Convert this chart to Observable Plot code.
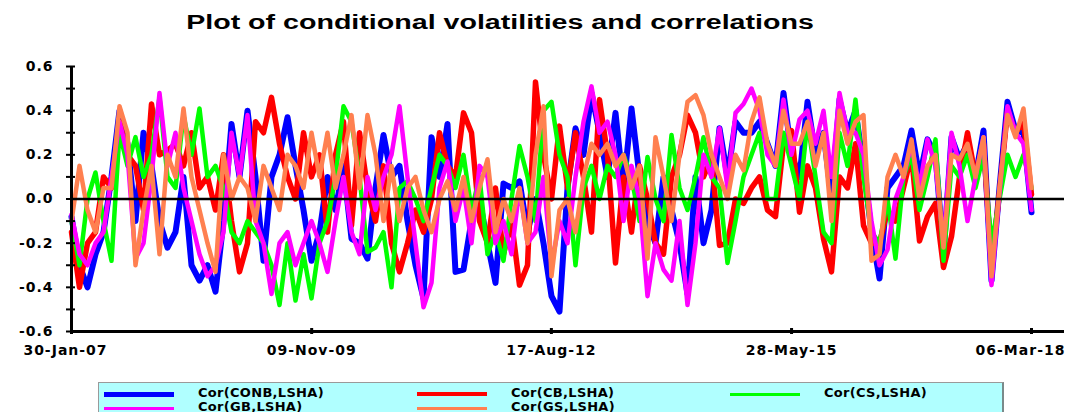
<!DOCTYPE html>
<html>
<head>
<meta charset="utf-8">
<script src="https://cdn.jsdelivr.net/npm/d3@7"></script>
<script src="https://cdn.jsdelivr.net/npm/@observablehq/plot@0.6"></script>
<style>
  html, body { margin: 0; padding: 0; background: #fff; }
  body { width: 1068px; height: 412px; overflow: hidden; position: relative; }
  #title { position: absolute; left: 500px; top: 11px; white-space: nowrap;
    font: bold 20px "Liberation Sans", Arial, sans-serif; color: #000;
    transform: translateX(-50%) scaleX(1.43); transform-origin: center; }
  #chart { position: absolute; left: 0; top: 50px; }
  #legend { position: absolute; left: 98px; top: 382px; width: 903px; height: 40px;
    background: #b0ffff; border: 1px solid #9a9a9a; border-right: 2px solid #7a8a8a; }
  .entry { position: absolute; height: 14px; }
  .swatch { position: absolute; left: 0; width: 70px; }
  .lab { position: absolute; left: 94px; top: -1px; white-space: nowrap;
    font: bold 13px "DejaVu Sans", sans-serif; color: #000; line-height: 14px; letter-spacing: 0.3px; }
</style>
</head>
<body>
<div id="title">Plot of conditional volatilities and correlations</div>
<div id="chart"></div>
<div id="legend"></div>
<script>
// ---- data ----
const seriesNames = ["Cor(CONB,LSHA)", "Cor(CB,LSHA)", "Cor(CS,LSHA)", "Cor(GB,LSHA)", "Cor(GS,LSHA)"];
const seriesColors = ["#0000ff", "#ff0000", "#00ff00", "#ff00ff", "#ff8050"];
const seriesWidths = [6, 5.5, 4.5, 4.5, 4.5];

const startDate = "2007-01-30";
const endDate = "2018-03-06";
const xTickLabels = ["2007-01-30", "2009-11-09", "2012-08-17", "2015-05-28", "2018-03-06"];
const yTickLabels = [-0.6, -0.4, -0.2, 0.0, 0.2, 0.4, 0.6];
const yMinorTicks = [-0.6, -0.5, -0.4, -0.3, -0.2, -0.1, 0.0, 0.1, 0.2, 0.3, 0.4, 0.5, 0.6];

const corCONB = [-0.08,-0.3,-0.4,-0.25,-0.15,0.1,0.4,0.25,-0.1,0.3,
0.15,-0.1,-0.22,-0.15,0.1,-0.3,-0.37,-0.3,-0.42,-0.1,
0.34,0.1,0.4,0.1,-0.28,0.1,0.2,0.37,0.15,-0.05,
-0.28,-0.15,0.1,-0.05,0.15,-0.18,-0.2,-0.27,0.05,0.29,
0.1,0.15,-0.1,-0.3,-0.45,0.28,0.1,0.34,-0.33,-0.32,
-0.1,0.0,-0.2,-0.38,0.07,0.05,0.08,-0.15,0.0,-0.2,
-0.44,-0.51,0.05,0.32,0.2,0.48,0.3,0.1,0.39,0.05,
0.41,0.1,-0.1,-0.2,0.1,-0.05,-0.2,-0.43,0.1,-0.2,
-0.05,0.32,0.1,0.35,0.3,0.3,0.35,0.25,0.15,0.48,
0.2,0.1,0.44,0.2,0.3,0.0,0.45,0.3,0.4,0.15,
-0.15,-0.36,0.05,0.1,0.15,0.31,0.1,0.27,0.2,-0.25,
0.28,0.18,0.25,0.1,0.31,-0.37,0.05,0.44,0.31,0.3,
-0.06];

const corCB = [-0.15,-0.4,-0.2,-0.15,0.1,0.05,0.35,0.2,0.15,-0.05,
0.43,0.2,0.22,0.25,0.15,0.3,0.05,0.1,-0.05,0.2,
-0.1,-0.33,-0.2,0.35,0.3,0.46,0.25,0.1,0.0,0.3,
0.1,0.2,-0.15,0.2,0.35,-0.12,0.3,0.05,-0.1,0.15,
-0.2,-0.33,-0.2,-0.05,-0.15,0.0,0.3,0.15,0.1,0.39,
0.3,-0.1,-0.2,0.05,-0.25,-0.1,-0.39,-0.3,0.53,0.2,
0.0,0.33,0.05,0.3,0.1,-0.15,0.45,0.2,-0.29,0.1,
-0.15,0.15,0.0,-0.2,-0.25,0.1,0.2,0.38,0.3,0.1,
0.19,-0.21,-0.2,0.0,-0.02,0.05,0.1,-0.05,-0.08,0.25,
0.31,-0.06,0.15,0.05,-0.18,-0.33,0.1,0.05,0.25,-0.12,
-0.2,-0.2,-0.05,-0.1,0.05,0.2,-0.19,-0.08,-0.02,-0.31,
-0.17,0.1,0.3,0.1,0.25,-0.3,0.03,0.4,0.3,0.35,
0.02];

const corCS = [-0.1,-0.3,0.0,0.12,-0.1,-0.28,0.3,0.15,0.28,0.1,
0.2,0.46,0.1,0.05,0.38,0.2,0.41,0.1,0.15,0.05,
-0.15,-0.2,-0.1,-0.15,-0.2,-0.3,-0.48,-0.2,-0.46,-0.25,
-0.45,-0.2,-0.1,0.1,0.42,0.35,0.1,-0.24,-0.22,-0.15,
-0.4,0.05,0.08,0.0,-0.1,0.05,0.2,0.15,0.05,0.2,
-0.05,0.1,-0.25,-0.15,-0.28,0.0,0.24,0.1,-0.1,0.4,
0.44,0.2,0.1,-0.3,0.05,0.15,0.0,0.15,0.1,0.2,
0.1,-0.1,0.19,0.0,-0.1,0.29,0.05,-0.05,0.1,0.28,
0.1,0.05,-0.29,-0.1,0.1,0.2,0.3,0.0,0.0,0.3,
0.15,0.0,0.35,0.1,-0.15,-0.2,0.3,0.15,0.45,0.1,
-0.15,-0.2,0.0,-0.27,0.1,0.2,-0.05,0.1,0.27,-0.28,
0.15,0.1,0.2,0.05,0.2,-0.2,0.0,0.2,0.1,0.2,
0.05];

const corGB = [-0.07,-0.25,-0.3,-0.2,-0.15,0.1,0.35,0.2,-0.27,-0.2,
0.1,0.48,0.15,0.3,0.05,-0.1,-0.25,-0.35,-0.3,-0.15,
0.3,0.1,0.38,-0.1,-0.2,-0.43,-0.2,-0.15,-0.3,-0.2,
-0.1,-0.2,-0.33,-0.1,0.1,-0.15,-0.25,0.1,-0.05,0.1,
0.2,0.42,0.1,-0.2,-0.49,-0.38,0.05,0.17,-0.1,0.05,
-0.2,0.15,0.1,-0.2,-0.1,-0.25,0.05,-0.2,-0.15,0.1,
-0.3,-0.1,-0.2,0.1,0.35,0.51,0.3,0.35,0.2,-0.1,
0.15,0.0,-0.44,-0.2,-0.32,-0.37,-0.1,-0.48,-0.2,0.2,
0.1,0.32,0.05,0.39,0.43,0.5,0.4,0.2,0.15,0.45,
0.2,0.36,0.4,0.25,0.4,0.1,0.48,0.3,0.3,0.2,
-0.1,-0.3,-0.23,0.0,0.1,0.25,0.05,0.27,0.15,-0.2,
0.3,0.15,-0.1,0.1,0.28,-0.39,0.03,0.42,0.3,0.25,
-0.05];

const corGS = [-0.1,0.15,-0.05,-0.15,0.05,0.05,0.42,0.3,-0.3,-0.05,
0.15,-0.25,0.2,0.1,0.41,0.1,-0.05,-0.2,-0.33,0.2,
0.0,0.1,0.05,-0.1,0.15,0.05,-0.05,0.2,0.15,0.05,
0.3,0.1,0.3,0.05,0.2,0.38,0.05,0.38,0.2,-0.1,
0.15,-0.1,0.05,0.1,-0.05,-0.15,0.0,0.08,-0.05,0.1,
-0.1,0.05,0.18,-0.15,0.0,-0.1,0.05,-0.2,0.2,0.42,
-0.35,-0.05,0.0,-0.15,0.1,0.25,0.2,0.25,0.15,0.2,
0.05,0.15,-0.27,0.28,0.1,-0.1,0.2,0.44,0.47,0.38,
0.2,0.1,0.0,0.2,0.13,0.35,0.46,0.25,0.15,0.4,
0.25,0.25,0.35,0.15,0.3,-0.1,0.4,0.25,0.35,0.38,
-0.28,-0.25,0.1,0.2,0.1,0.27,0.0,0.15,0.2,-0.22,
0.2,0.18,0.25,0.1,0.28,-0.35,0.05,0.38,0.28,0.41,
0.05];

const seriesValues = [corCONB, corCB, corCS, corGB, corGS];

// ---- build ----
const parse = d3.utcParse("%Y-%m-%d");
const t0 = parse(startDate).getTime(), t1 = parse(endDate).getTime();
const n = corCONB.length;
const dates = d3.range(n).map(i => new Date(t0 + (t1 - t0) * i / (n - 1)));
const xEnd = new Date(t1 + (t1 - t0) * 33 / 960);   // axis runs a bit past the last observation
const xTicks = xTickLabels.map(parse);
const fmtX = d3.utcFormat("%d-%b-%y");

const W = 1068, H = 320, mL = 71, mR = 4, mT = 16, mB = 39;
const frameW = W - mL - mR, frameH = H - mT - mB;

const lineMarks = seriesValues.map((vals, k) =>
  Plot.line(vals.map((v, i) => ({date: dates[i], value: v})), {
    x: "date", y: "value", stroke: seriesColors[k], strokeWidth: seriesWidths[k],
    strokeLinejoin: "round", strokeLinecap: "round"
  })
);

const chart = Plot.plot({
  width: W, height: H,
  marginLeft: mL, marginRight: mR, marginTop: mT, marginBottom: mB,
  style: {fontFamily: "DejaVu Sans, sans-serif", fontSize: "14px", fontWeight: "bold", letterSpacing: "1px", color: "#000", background: "transparent", overflow: "visible"},
  x: {type: "utc", domain: [dates[0], xEnd], axis: null},
  y: {domain: [-0.6, 0.6], axis: null},
  marks: [
    ...lineMarks,
    Plot.ruleY([0], {stroke: "#000", strokeWidth: 2.5}),
    Plot.ruleX([dates[0]], {y1: -0.6, y2: 0.6, stroke: "#000", strokeWidth: 3}),
    Plot.ruleY([-0.6], {stroke: "#000", strokeWidth: 3}),
    Plot.tickY(yMinorTicks, {y: d => d, stroke: "#000", strokeWidth: 2, insetLeft: -5, insetRight: frameW - 4}),
    Plot.tickX(xTicks, {x: d => d, stroke: "#000", strokeWidth: 3, insetTop: frameH - 3, insetBottom: -3}),
    Plot.axisY({ticks: yTickLabels, tickSize: 0, tickPadding: 18, tickFormat: d => d.toFixed(1), label: null, fill: "#000"}),
    Plot.axisX({ticks: xTicks.slice(0, 1), tickSize: 0, tickPadding: 14, dx: -6, tickFormat: fmtX, label: null, fill: "#000"}),
    Plot.axisX({ticks: xTicks.slice(1, -1), tickSize: 0, tickPadding: 14, tickFormat: fmtX, label: null, fill: "#000"}),
    Plot.axisX({ticks: xTicks.slice(-1), tickSize: 0, tickPadding: 14, dx: -11, tickFormat: fmtX, label: null, fill: "#000"})
  ]
});
document.getElementById("chart").appendChild(chart);

// ---- legend ----
const legend = document.getElementById("legend");
seriesNames.forEach((name, k) => {
  const col = k % 3, row = Math.floor(k / 3);
  const e = document.createElement("div");
  e.className = "entry";
  e.style.left = (5 + col * 313) + "px";
  e.style.top = (4 + row * 14) + "px";
  const sw = document.createElement("div");
  sw.className = "swatch";
  const th = Math.max(2, Math.round(seriesWidths[k] - 1.5));
  sw.style.height = th + "px";
  sw.style.top = (7 - th / 2) + "px";
  sw.style.background = seriesColors[k];
  const lb = document.createElement("div");
  lb.className = "lab";
  lb.textContent = name;
  e.appendChild(sw); e.appendChild(lb);
  legend.appendChild(e);
});
</script>
</body>
</html>
